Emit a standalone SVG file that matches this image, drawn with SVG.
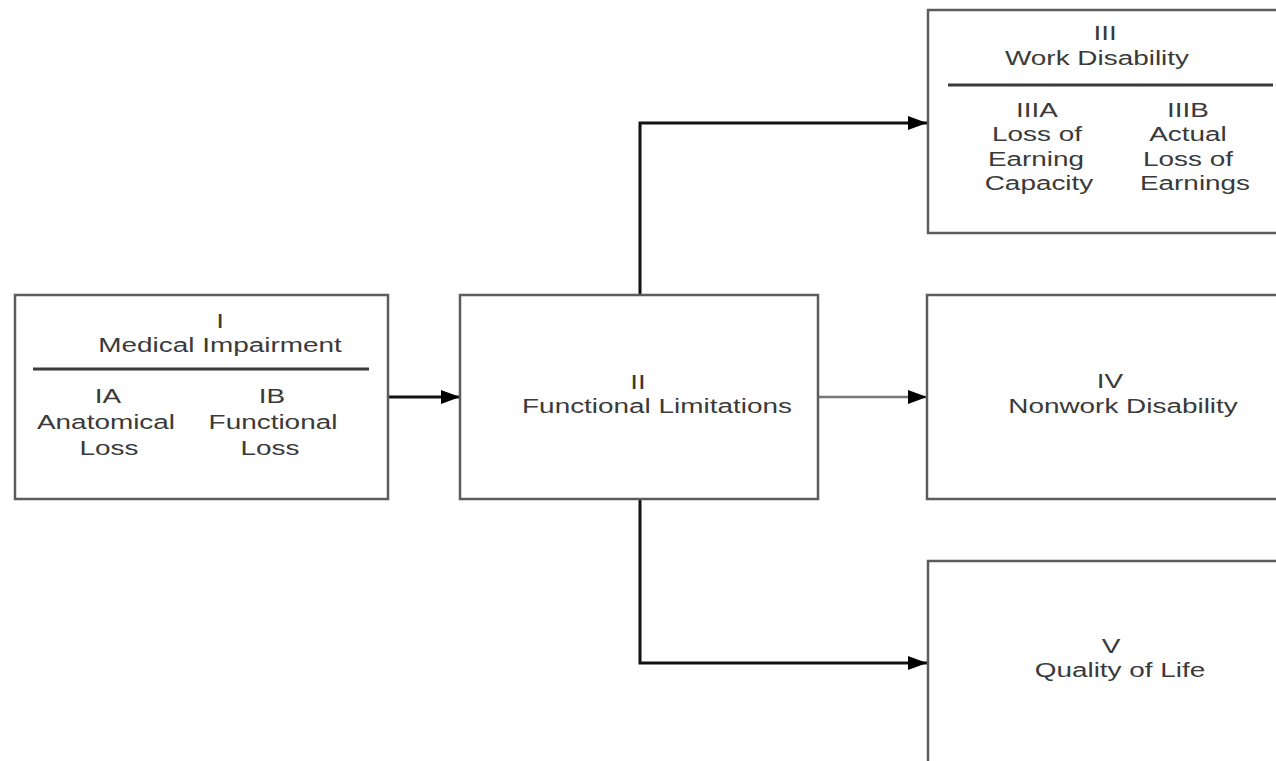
<svg xmlns="http://www.w3.org/2000/svg" width="1276" height="761" viewBox="0 0 1276 761">
<style>
.box{fill:#fff;stroke:#5c5c5c;stroke-width:2.5}
.div{stroke:#3a3a3a;stroke-width:3}
.t{font-family:"Liberation Sans",Arial,sans-serif;font-size:21px;fill:#3a3a3a;text-anchor:middle}
.c{fill:none;stroke:#111;stroke-width:3}
.cg{fill:none;stroke:#777;stroke-width:2.5}
</style>
<defs>
<marker id="ah" markerUnits="userSpaceOnUse" markerWidth="20" markerHeight="14" refX="19" refY="7" orient="auto">
<path d="M0,0 L19,7 L0,14 z" fill="#000"/>
</marker>
</defs>
<rect width="1276" height="761" fill="#fff"/>
<g id="connectors">
<line class="c" x1="389" y1="397" x2="460" y2="397" marker-end="url(#ah)"/>
<line class="cg" x1="819" y1="397" x2="927" y2="397" marker-end="url(#ah)"/>
<polyline class="c" points="640,295 640,123 927,123" marker-end="url(#ah)"/>
<polyline class="c" points="640,499 640,663 927,663" marker-end="url(#ah)"/>
</g>
<g id="node-I">
<rect class="box" x="15" y="295" width="373" height="204"/>
<text class="t" transform="translate(220,328) scale(1.33,1)">I</text>
<text class="t" transform="translate(220,352) scale(1.33,1)">Medical Impairment</text>
<line class="div" x1="33" y1="369" x2="369" y2="369"/>
<text class="t" transform="translate(108,403) scale(1.33,1)">IA</text>
<text class="t" transform="translate(106,429) scale(1.33,1)">Anatomical</text>
<text class="t" transform="translate(109,455) scale(1.33,1)">Loss</text>
<text class="t" transform="translate(272,403) scale(1.33,1)">IB</text>
<text class="t" transform="translate(273,429) scale(1.33,1)">Functional</text>
<text class="t" transform="translate(270,455) scale(1.33,1)">Loss</text>
</g>
<g id="node-II">
<rect class="box" x="460" y="295" width="358" height="204"/>
<text class="t" transform="translate(638,389) scale(1.33,1)">II</text>
<text class="t" transform="translate(657,413) scale(1.33,1)">Functional Limitations</text>
</g>
<g id="node-III">
<rect class="box" x="928" y="10" width="370" height="223"/>
<text class="t" transform="translate(1105,40) scale(1.33,1)">III</text>
<text class="t" transform="translate(1097,65) scale(1.33,1)">Work Disability</text>
<line class="div" x1="948" y1="85" x2="1273" y2="85"/>
<text class="t" transform="translate(1037,117) scale(1.33,1)">IIIA</text>
<text class="t" transform="translate(1037,141) scale(1.33,1)">Loss of</text>
<text class="t" transform="translate(1036,166) scale(1.33,1)">Earning</text>
<text class="t" transform="translate(1039,190) scale(1.33,1)">Capacity</text>
<text class="t" transform="translate(1188,117) scale(1.33,1)">IIIB</text>
<text class="t" transform="translate(1188,141) scale(1.33,1)">Actual</text>
<text class="t" transform="translate(1188,166) scale(1.33,1)">Loss of</text>
<text class="t" transform="translate(1195,190) scale(1.33,1)">Earnings</text>
</g>
<g id="node-IV">
<rect class="box" x="927" y="295" width="370" height="204"/>
<text class="t" transform="translate(1110,388) scale(1.33,1)">IV</text>
<text class="t" transform="translate(1123,413) scale(1.33,1)">Nonwork Disability</text>
</g>
<g id="node-V">
<rect class="box" x="928" y="561" width="370" height="220"/>
<text class="t" transform="translate(1111,653) scale(1.33,1)">V</text>
<text class="t" transform="translate(1120,677) scale(1.33,1)">Quality of Life</text>
</g>
</svg>
